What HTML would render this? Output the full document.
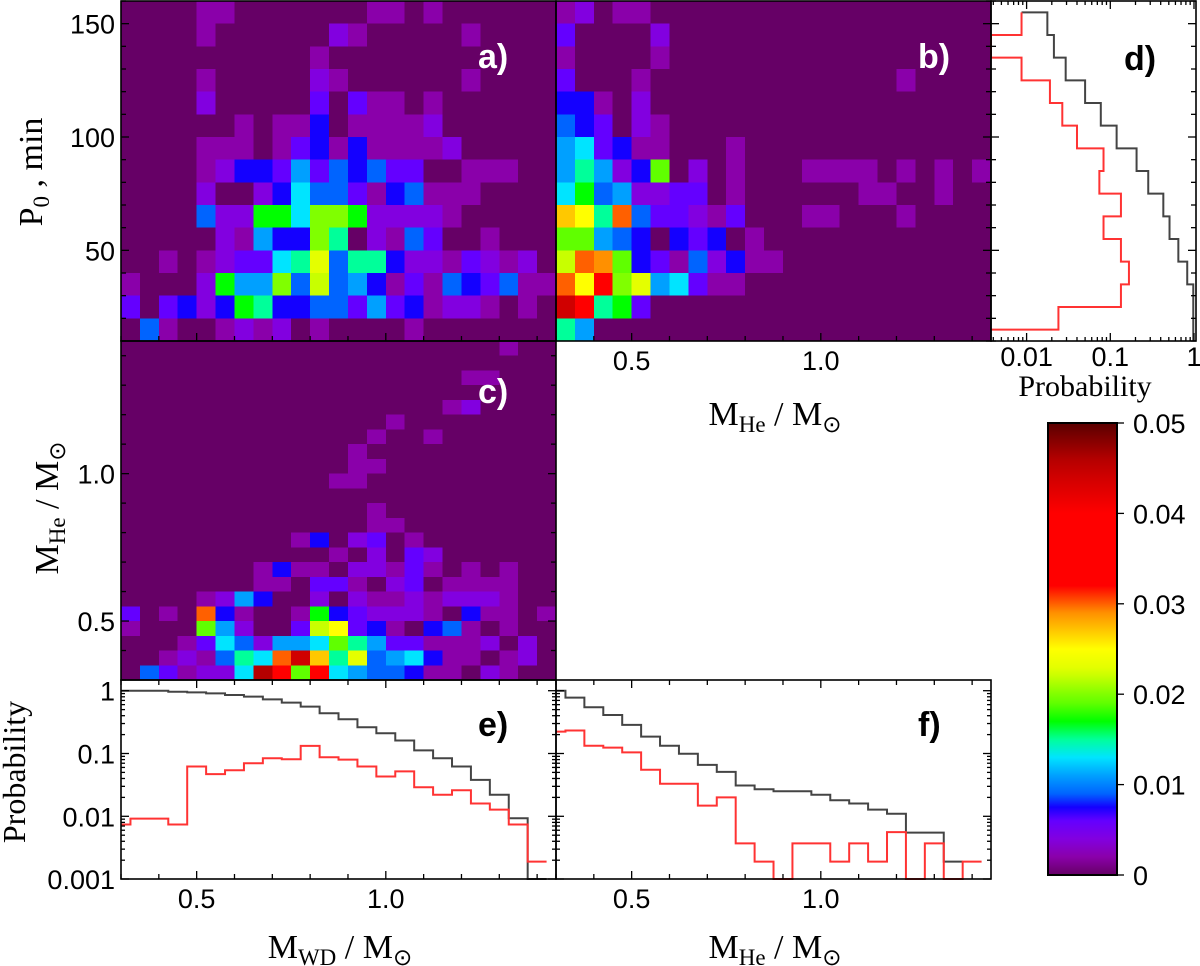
<!DOCTYPE html>
<html>
<head>
<meta charset="utf-8">
<style>
html,body{margin:0;padding:0;background:#fff;}
svg{display:block;}
.tick{font-family:"Liberation Sans",Arial,sans-serif;font-size:27px;fill:#000;}
.title{font-family:"Liberation Serif","Times New Roman",serif;font-size:34px;fill:#000;}
.plab{font-family:"Liberation Sans",Arial,sans-serif;font-size:34px;font-weight:bold;}
</style>
</head>
<body>
<svg id="chart" xmlns="http://www.w3.org/2000/svg" width="1200" height="966" viewBox="0 0 1200 966"></svg>
<script>
const heatA = [
[0,0,0,0,2,2,0,0,0,0,0,0,0,2,2,0,2],
[0,0,0,0,2,0,0,0,0,0,0,4,2,0,0,0,0,0,2],
[0,0,0,0,0,0,0,0,0,0,2],
[0,0,0,0,2,0,0,0,0,0,4,2,0,0,0,0,0,0,2],
[0,0,0,0,4,0,0,0,0,0,6,0,6,2,2,0,2],
[0,0,0,0,0,0,2,0,2,2,7.5,0,2,2,2,2,4],
[0,0,0,0,2,2,2,0,2,6,7.5,2,7.5,2,2,2,2,4],
[0,0,0,0,2,4,7.5,7.5,6,11,6,9,7.5,9,6,6,0,0,2,2,2,0,0],
[0,0,0,0,4,0,0,4,7.5,13,9,9,6,2,7.5,9,2,2,2],
[0,0,0,0,9,4,4,17,17,13,20,20,17,4,4,4,4,2],
[0,0,0,0,0,4,2,11,7.5,7.5,20,15,0,4,2,9,6,0,0,2],
[0,0,2,0,2,4,6,6,13,15,23,9,15,15,7.5,4,4,2,6,4,2,4,0],
[2,0,0,0,4,17,11,11,20,9,22,9,11,7.5,2,6,2,9,7.5,6,9,2,2],
[6,0,6,7.5,4,7.5,17,15,7.5,7.5,9,9,6,11,6,7.5,2,4,4,2,0,2,0],
[0,9,2,0,0,2,4,2,4,0,2,0,0,0,0,2]
];
const heatB = [
[2,4,0,2,2],
[6,0,0,0,0,4],
[2,0,0,0,0,2],
[6,0,0,0,2,0,0,0,0,0,0,0,0,0,0,0,0,0,2],
[7.5,7.5,2,0,4],
[9,7.5,6,0,4,2],
[11,13,6,7.5,2,2,0,0,0,2],
[11,15,11,4,7.5,19,0,4,0,2,0,0,0,2,2,2,2,0,2,0,2,0,2],
[13,17,9,11,4,4,6,6,0,2,0,0,0,0,0,0,2,2,0,0,2],
[27,25,15,30,9,6,6,4,2,6,0,0,0,2,2,0,0,0,2],
[19,19,11,9,7.5,0,7.5,6,7.5,0,2],
[22,30,29,19,7.5,6,2,9,4,7.5,2,2],
[30,25,34,20,23,11,13,6,2,2],
[44,36,15,17,6],
[15,11]
];
const heatC = [
[0,0,0,0,0,0,0,0,0,0,0,0,0,0,0,0,0,0,0,0,2],
[],
[0,0,0,0,0,0,0,0,0,0,0,0,0,0,0,0,0,0,2,2],
[],
[0,0,0,0,0,0,0,0,0,0,0,0,0,0,0,0,0,2,4],
[0,0,0,0,0,0,0,0,0,0,0,0,0,0,2],
[0,0,0,0,0,0,0,0,0,0,0,0,0,2,0,0,2],
[0,0,0,0,0,0,0,0,0,0,0,0,2],
[0,0,0,0,0,0,0,0,0,0,0,0,2,2],
[0,0,0,0,0,0,0,0,0,0,0,2,2],
[],
[0,0,0,0,0,0,0,0,0,0,0,0,0,2],
[0,0,0,0,0,0,0,0,0,0,0,0,0,2,2],
[0,0,0,0,0,0,0,0,0,2,7.5,0,4,6,0,2],
[0,0,0,0,0,0,0,0,0,0,0,2,0,4,0,6,4],
[0,0,0,0,0,0,0,2,7.5,2,2,0,4,4,2,6,2,0,2,0,2],
[0,0,0,0,0,0,0,2,2,0,6,6,2,0,4,6,0,2,2,2,2],
[0,0,0,0,2,4,11,7.5,0,0,4,0,4,2,2,4,2,4,4,4,2],
[6,0,2,0,30,7.5,2,0,0,2,17,7.5,6,4,4,4,2,0,7.5,2,2,0,2],
[2,0,0,0,19,11,4,0,0,6,22,25,6,7.5,2,0,7.5,9,2,0,2],
[0,0,0,2,6,13,9,4,11,11,13,19,15,11,6,6,2,2,2,4,0,4],
[0,0,2,4,2,9,15,13,30,44,27,15,23,9,11,13,7.5,2,2,0,2,4],
[0,9,6,2,4,4,13,46,36,19,36,13,11,9,9,7.5,2,2,0,4,2]
];
const eEdgesGray = [0.3,0.425,0.475,0.525,0.575,0.625,0.675,0.725,0.775,0.825,0.875,0.925,0.975,1.025,1.075,1.125,1.175,1.225,1.275,1.325,1.375,1.425];
const eGray = [1.0,0.964,0.941,0.907,0.853,0.803,0.729,0.645,0.557,0.437,0.351,0.262,0.210,0.161,0.112,0.084,0.062,0.038,0.022,0.0093,0];
const eEdgesRed = [0.3,0.325,0.425,0.475,0.525,0.575,0.625,0.675,0.725,0.775,0.825,0.875,0.925,0.975,1.025,1.075,1.125,1.175,1.225,1.275,1.325,1.375,1.425];
const eRed = [0.0074,0.0092,0.0074,0.062,0.047,0.054,0.070,0.084,0.081,0.132,0.087,0.080,0.062,0.043,0.052,0.029,0.022,0.026,0.016,0.0128,0.0074,0.0019];
const fEdgesGray = [0.3,0.325,0.375,0.425,0.475,0.525,0.575,0.625,0.675,0.725,0.775,0.825,0.875,0.925,0.975,1.025,1.075,1.125,1.175,1.225,1.275,1.325,1.375];
const fGray = [1.0,0.774,0.544,0.411,0.285,0.186,0.133,0.099,0.066,0.051,0.031,0.027,0.025,0.025,0.022,0.018,0.016,0.0128,0.0110,0.0055,0.0055,0.0019];
const fEdgesRed = [0.3,0.325,0.375,0.425,0.475,0.525,0.575,0.625,0.675,0.725,0.775,0.825,0.875,0.925,0.975,1.025,1.075,1.125,1.175,1.225,1.275,1.325,1.375,1.425];
const fRed = [0.223,0.232,0.133,0.124,0.104,0.055,0.033,0.033,0.0148,0.020,0.0037,0.0019,0,0.0037,0.0037,0.0019,0.0037,0.0019,0.0056,0,0.0037,0,0.0019];
const dEdges = [155,145,135,125,115,105,95,85,75,65,55,45,35,25,15,10];
const dGray = [0.0177,0.0212,0.0293,0.050,0.077,0.119,0.206,0.284,0.43,0.51,0.65,0.83,0.98,0.98,0.98];
const dRed = [0.0087,0,0.0087,0.019,0.0267,0.040,0.083,0.074,0.134,0.083,0.134,0.167,0.134,0.024];
const dGrayStart = 0.0087;
const tickP0 = [150,100,50];
const tickM = [0.5,1.0];
const tickLogY = [1,0.1,0.01,0.001];
const tickLogYLab = ["1","0.1","0.01","0.001"];
const tickLogX = [0.01,0.1,1];
const tickLogXLab = ["0.01","0.1","1"];
const cbTicks = [0,10,20,30,40,50];
const cbTickLab = ["0","0.01","0.02","0.03","0.04","0.05"];
const cmapVals = [0,2,4,6,7.5,9,11,13,15,17,19,20,22,23,25,27,29,30,32,40,44,46,50];
const cmapCols = ['#660066','#8a00aa','#8200e0','#6400ff','#1400ff','#0064ff','#00a0ff','#00e4ff','#00ff9a','#00ff00','#60ff00','#80ff00','#c8ff00','#e4ff00','#ffff00','#ffc800','#ff9000','#ff6000','#ff0000','#ff0000','#d00000','#b40000','#5a0000'];

const NS='http://www.w3.org/2000/svg';
const svg=document.getElementById('chart');
function mk(tag,attrs,parent){const e=document.createElementNS(NS,tag);for(const k in attrs)e.setAttribute(k,attrs[k]);(parent||svg).appendChild(e);return e;}
function hex(c){return [parseInt(c.slice(1,3),16),parseInt(c.slice(3,5),16),parseInt(c.slice(5,7),16)];}
function cmap(v){
  if(v<=cmapVals[0])return cmapCols[0];
  for(let i=1;i<cmapVals.length;i++){
    if(v<=cmapVals[i]){const t=(v-cmapVals[i-1])/(cmapVals[i]-cmapVals[i-1]);const a=hex(cmapCols[i-1]),b=hex(cmapCols[i]);
      return 'rgb('+a.map((x,k)=>Math.round(x+(b[k]-x)*t)).join(',')+')';}
  }
  return cmapCols[cmapCols.length-1];
}
const xM=v=>121+(v-0.3)*378.3;
const xH=v=>556+(v-0.3)*378.3;
const yP=v=>1+(160-v)*2.2667;
const yH=v=>680-(v-0.3)*294.8;
const yL=p=>p<=0?879:Math.min(879,690.7-Math.log10(p)*62.8);
const xL=p=>p<=0?991:Math.max(991,1194+Math.log10(p)*83.7);
const yCB=v=>875-v/50*452;

function heat(data,name,xs,rowTop,rowBot){
  const g=mk('g',{});
  
  
  data.forEach((row,r)=>{
    for(let c=0;c<23;c++){
      const v=row[c]||0;
      const x0=xs(0.3+0.05*c),x1=xs(0.35+0.05*c);
      const y0=rowTop(r),y1=rowBot(r);
      const rc=mk('rect',{x:x0,y:y0,width:x1-x0+0.6,height:y1-y0+0.6,fill:cmap(v),'shape-rendering':'crispEdges'},g);
      
      
    }
  });
}
heat(heatA,'heatmap-a',xM,r=>yP(160-10*r),r=>yP(150-10*r));
heat(heatB,'heatmap-b',xH,r=>yP(160-10*r),r=>yP(150-10*r));
heat(heatC,'heatmap-c',xM,r=>yH(1.45-0.05*r),r=>yH(1.40-0.05*r));

function hstairs(edges,vals,xs,col,name){
  let d='M'+xs(edges[0])+','+yL(vals[0]);
  for(let i=0;i<vals.length;i++){
    d+=' H'+xs(edges[i+1]);
    if(i+1<vals.length)d+=' V'+yL(vals[i+1]);
  }
  const p=mk('path',{d:d,fill:'none',stroke:col,'stroke-width':2});
  
  
}
hstairs(eEdgesGray,eGray,xM,'#444','e-total-line');
hstairs(eEdgesRed,eRed,xM,'#ff3333','e-red-line');
hstairs(fEdgesGray,fGray,xH,'#444','f-total-line');
hstairs(fEdgesRed,fRed,xH,'#ff3333','f-red-line');
(function(){
  let d='M'+xL(dGrayStart)+','+yP(dEdges[0]);
  for(let i=0;i<dGray.length;i++){d+=' H'+xL(dGray[i])+' V'+yP(dEdges[i+1]);}
  const p=mk('path',{d:d,fill:'none',stroke:'#444','stroke-width':2});
  
  
  let r='M'+xL(dRed[0])+','+yP(dEdges[0])+' V'+yP(dEdges[1]);
  for(let i=1;i<dRed.length;i++){r+=' H'+xL(dRed[i])+' V'+yP(dEdges[i+1]);}
  r+=' H991';
  const q=mk('path',{d:r,fill:'none',stroke:'#ff3333','stroke-width':2});
  
  
})();

function frame(x0,y0,x1,y1,name){
  const r=mk('rect',{x:x0,y:y0,width:x1-x0,height:y1-y0,fill:'none',stroke:'#000','stroke-width':1.6});
  
  
}
frame(121,1,556,341,'panel-a-frame');
frame(556,1,991,341,'panel-b-frame');
frame(991,1,1196,341,'panel-d-frame');
frame(121,341,556,680,'panel-c-frame');
frame(121,680,556,879,'panel-e-frame');
frame(556,680,991,879,'panel-f-frame');

const tg=mk('g',{stroke:'#000','stroke-width':1.3});


function ln(x1,y1,x2,y2){mk('line',{x1:x1,y1:y1,x2:x2,y2:y2},tg);}
for(let v=10;v<=160;v+=10){const y=yP(v),L=(v%50===0)?8:5;ln(121,y,121+L,y);ln(991,y,991-L,y);ln(991,y,991+L,y);ln(1196,y,1196-L,y);}
for(let k=0;k<12;k++){const v=0.3+0.1*k;const L=(Math.abs(v-0.5)<1e-6||Math.abs(v-1.0)<1e-6)?8:5;
  [xM(v)].forEach(x=>{ln(x,341,x,341-L);ln(x,879,x,879-L);ln(x,680,x,680+L);});
  [xH(v)].forEach(x=>{ln(x,341,x,341-L);ln(x,879,x,879-L);ln(x,680,x,680+L);});}
for(let k=0;k<12;k++){const v=0.3+0.1*k;const y=yH(v);const L=(Math.abs(v-0.5)<1e-6||Math.abs(v-1.0)<1e-6)?8:5;ln(121,y,121+L,y);ln(556,y,556-L,y);}
for(let dcd=-3;dcd<=0;dcd++){for(let k=1;k<=9;k++){const p=k*Math.pow(10,dcd);const y=yL(p);if(y<681)continue;const L=k===1?8:4;
  ln(121,y,121+L,y);ln(556,y,556-L,y);ln(556,y,556+L,y);ln(991,y,991-L,y);}}
for(let dcd=-3;dcd<=0;dcd++){for(let k=1;k<=9;k++){const p=k*Math.pow(10,dcd);const x=xL(p);if(x<=992||x>1195)continue;const L=k===1?8:4;ln(x,341,x,341-L);ln(x,1,x,1+L);}}

function txt(x,y,s,cls,anchor,name){const t=mk('text',{x:x,y:y,class:cls,'text-anchor':anchor||'middle'});t.textContent=s;return t;}
tickP0.forEach(v=>txt(115,yP(v)+10,String(v),'tick','end','y-tick-label-p0'));
tickM.forEach(v=>txt(115,yH(v)+10,v.toFixed(1),'tick','end','y-tick-label-mhe'));
tickLogY.forEach((v,i)=>txt(115,yL(v)+10,tickLogYLab[i],'tick','end','y-tick-label-prob'));
tickM.forEach(v=>{txt(xH(v),370,v.toFixed(1),'tick','middle','x-tick-label-b');txt(xM(v),908,v.toFixed(1),'tick','middle','x-tick-label-e');txt(xH(v),908,v.toFixed(1),'tick','middle','x-tick-label-f');});
tickLogX.forEach((v,i)=>txt(xL(v),366,tickLogXLab[i],'tick','middle','x-tick-label-d'));

const defs=mk('defs',{});
const grad=mk('linearGradient',{id:'cbg',x1:0,y1:1,x2:0,y2:0},defs);
cmapVals.forEach((v,i)=>mk('stop',{offset:(v/50),'stop-color':cmapCols[i]},grad));
const cb=mk('rect',{x:1048,y:423,width:69,height:452,fill:'url(#cbg)',stroke:'#000','stroke-width':2});


cbTicks.forEach((v,i)=>{ln(1117,yCB(v),1124,yCB(v));txt(1133,yCB(v)+10,cbTickLab[i],'tick','start','colorbar-tick-label').setAttribute('style','font-size:27px');});

[['a)',478,68,'#fff'],['b)',918,68,'#fff'],['c)',478,403,'#fff'],['d)',1124,70,'#000'],['e)',478,736,'#000'],['f)',918,736,'#000']].forEach(a=>{
  const t=txt(a[1],a[2],a[0],'plab','start','panel-label');t.setAttribute('fill',a[3]);});
</script>
<script>
(function(){
  const NS='http://www.w3.org/2000/svg';const svg=document.getElementById('chart');
  function title(html,transform,name,size){const t=document.createElementNS(NS,'text');t.setAttribute('class','title');t.setAttribute('text-anchor','middle');t.setAttribute('transform',transform);if(size)t.setAttribute('style','font-size:'+size+'px');t.innerHTML=html;
    
    
    svg.appendChild(t);}
  const sub=(s)=>'<tspan dy="7" style="font-size:23px">'+s+'</tspan><tspan dy="-7"> </tspan>';
  title('P'+sub('0')+', min','translate(42,172) rotate(-90)','y-axis-title-p0');
  title('M'+sub('He')+'/ M'+sub('⊙'),'translate(58,508) rotate(-90)','y-axis-title-mhe');
  title('Probability','translate(25,772) rotate(-90)','y-axis-title-probability',32);
  title('Probability','translate(1085,396)','x-axis-title-probability-d',30);
  title('M'+sub('He')+'/ M'+sub('⊙'),'translate(775,425)','x-axis-title-mhe-b');
  title('M'+sub('WD')+'/ M'+sub('⊙'),'translate(340,958)','x-axis-title-mwd');
  title('M'+sub('He')+'/ M'+sub('⊙'),'translate(775,958)','x-axis-title-mhe-f');
})();
</script>
</body>
</html>
